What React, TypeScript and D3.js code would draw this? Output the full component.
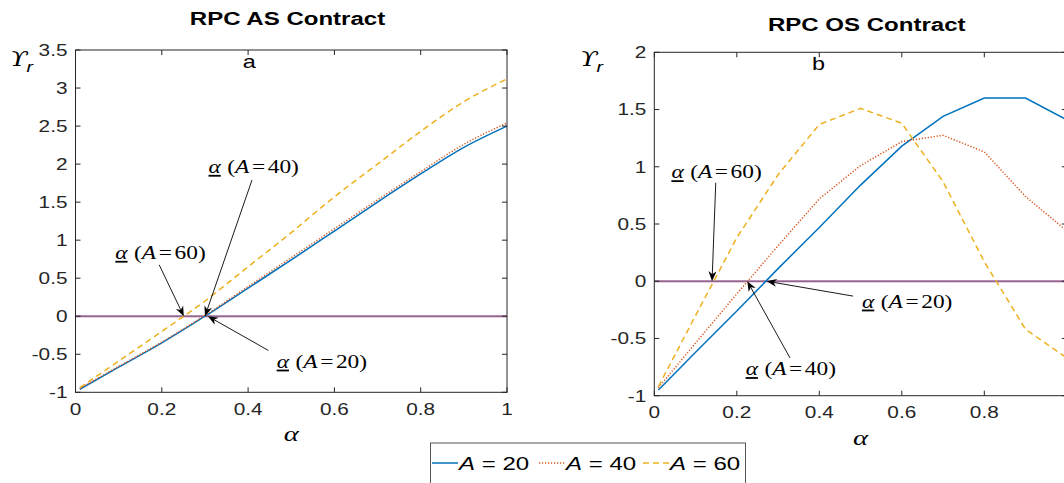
import React from "react";
import * as d3 from "d3";

const W = 1064;
const H = 483;
const SX = 1.3; // the reference's text is stretched horizontally

// data ---------------------------------------------------------------
const alphas = [0.01, 0.1, 0.2, 0.3, 0.4, 0.5, 0.6, 0.7, 0.8, 0.9, 1.0];

const asA20 = [-0.96, -0.67, -0.35, 0.0, 0.37, 0.74, 1.12, 1.5, 1.87, 2.22, 2.5];
const asA40 = [-0.95, -0.66, -0.34, 0.01, 0.39, 0.77, 1.15, 1.53, 1.9, 2.26, 2.54];
const asA60 = [-0.94, -0.59, -0.2, 0.2, 0.65, 1.1, 1.57, 2.0, 2.43, 2.82, 3.12];

const osA20 = [-0.95, -0.62, -0.26, 0.11, 0.47, 0.84, 1.18, 1.44, 1.6, 1.6, 1.41];
const osA40 = [-0.93, -0.54, -0.11, 0.31, 0.72, 1.01, 1.22, 1.275, 1.13, 0.74, 0.44];
const osA60 = [-0.92, -0.3, 0.38, 0.93, 1.37, 1.51, 1.38, 0.87, 0.17, -0.42, -0.67];

const xTicks = [0, 0.2, 0.4, 0.6, 0.8, 1];
const asYTicks = [-1, -0.5, 0, 0.5, 1, 1.5, 2, 2.5, 3, 3.5];
const osYTicks = [-1, -0.5, 0, 0.5, 1, 1.5, 2];

const seriesNames = ["A = 20", "A = 40", "A = 60"];

// annotation: label, head (alpha, value), tail, text centre
const asNotes = [
  { a: 40, head: [0.3, 0], tail: [0.409, 1.79], text: [0.413, 1.96] },
  { a: 60, head: [0.251, 0], tail: [0.194, 0.675], text: [0.197, 0.83] },
  { a: 20, head: [0.307, 0], tail: [0.447, -0.45], text: [0.571, -0.6] },
];
const osNotes = [
  { a: 60, head: [0.14, 0], tail: [0.149, 0.86], text: [0.151, 0.95] },
  { a: 20, head: [0.2725, 0], tail: [0.482, -0.13], text: [0.613, -0.18] },
  { a: 40, head: [0.2255, 0], tail: [0.329, -0.67], text: [0.331, -0.77] },
];

// styles ---------------------------------------------------------------
const styles = [
  { color: "#0072BD", dash: "none", width: 1.5 },
  { color: "#D95319", dash: "1.2 1.8", width: 1.5 },
  { color: "#EDB120", dash: "6 4", width: 1.5 },
];
const AXIS = "#262626";
const SANS = "'Liberation Sans', Arial, Helvetica, sans-serif";
const SERIF = "'Liberation Serif', 'Times New Roman', serif";

const SText = ({ x, y, anchor = "middle", size, weight = "normal", family = SANS, fill = AXIS, children }) => (
  <g transform={`translate(${x},${y}) scale(${SX},1)`}>
    <text textAnchor={anchor} fontSize={size} fontWeight={weight} fontFamily={family} fill={fill}>
      {children}
    </text>
  </g>
);

const Arrow = ({ x1, y1, x2, y2 }) => {
  const ang = Math.atan2(y2 - y1, x2 - x1);
  const L = 10, w = 4, n = 7;
  const c = Math.cos(ang), s = Math.sin(ang);
  const p = (back, side) => [x2 - back * c - side * s, y2 - back * s + side * c];
  const head = [p(0, 0), p(L, w), p(n, 0), p(L, -w)];
  return (
    <g>
      <line x1={x1} y1={y1} x2={p(n, 0)[0]} y2={p(n, 0)[1]} stroke="#000" strokeWidth={0.9} />
      <path d={d3.line()(head) + "Z"} fill="#000" />
    </g>
  );
};

const Panel = ({ left, right, top, bottom, yDomain, yTicks, series, notes, curve, title, titleX, titleY, letter, letterY, upsX, ylabY }) => {
  const x = d3.scaleLinear().domain([0, 1]).range([left, right]);
  const y = d3.scaleLinear().domain(yDomain).range([bottom, top]);
  const line = d3.line<number>().x((_, i) => x(alphas[i])).y((d) => y(d)).curve(curve);
  const zero = d3.line<number>().x((d) => x(d)).y(() => y(0));
  return (
    <g>
      <path d={zero([0, 1]) ?? ""} stroke="#c9a3c3" strokeWidth={2.4} fill="none" />
      <path d={zero([0, 1]) ?? ""} stroke="#7e4f7c" strokeWidth={1.1} fill="none" />
      {series.map((vals, i) => (
        <path
          key={i}
          d={line(vals) ?? ""}
          fill="none"
          stroke={styles[i].color}
          strokeWidth={styles[i].width}
          strokeDasharray={styles[i].dash}
        />
      ))}
      {/* box and ticks */}
      <rect x={left} y={top} width={right - left} height={bottom - top} fill="none" stroke={AXIS} strokeWidth={1} />
      {xTicks.map((t) => (
        <g key={"x" + t}>
          <line x1={x(t)} x2={x(t)} y1={bottom} y2={bottom - 5} stroke={AXIS} />
          <line x1={x(t)} x2={x(t)} y1={top} y2={top + 5} stroke={AXIS} />
          {x(t) < W - 8 && (
            <SText x={x(t)} y={bottom + 22.5} size={16}>{String(t)}</SText>
          )}
        </g>
      ))}
      {yTicks.map((t) => (
        <g key={"y" + t}>
          <line x1={left} x2={left + 5} y1={y(t)} y2={y(t)} stroke={AXIS} />
          <line x1={right} x2={right - 5} y1={y(t)} y2={y(t)} stroke={AXIS} />
          <SText x={left - 8} y={y(t) + 5.8} anchor="end" size={16}>{String(t)}</SText>
        </g>
      ))}
      {/* annotations */}
      {notes.map((n) => (
        <g key={"n" + n.a}>
          <Arrow x1={x(n.tail[0])} y1={y(n.tail[1])} x2={x(n.head[0])} y2={y(n.head[1])} />
          <SText x={x(n.text[0])} y={y(n.text[1]) + 6} size={18} family={SERIF} fill="#000">
            <tspan fontStyle="italic" style={{ textDecoration: "underline" }}>α</tspan>
            <tspan dx={5}>(</tspan>
            <tspan fontStyle="italic">A</tspan>
            <tspan dx={2}>=</tspan>
            <tspan dx={2}>{n.a})</tspan>
          </SText>
        </g>
      ))}
      {/* labels */}
      <SText x={titleX} y={titleY} size={18.5} weight="bold" fill="#000">{title}</SText>
      <SText x={(left + right) / 2 - 42} y={letterY} size={18} fill="#000">{letter}</SText>
      <SText x={(left + right) / 2} y={bottom + 49} size={22} family={SERIF} fill="#000">
        <tspan fontStyle="italic">α</tspan>
      </SText>
      <SText x={upsX} y={ylabY} anchor="start" size={20} family="'DejaVu Serif', serif" fill="#000">
        <tspan fontStyle="italic">ϒ</tspan>
      </SText>
      <SText x={upsX + 16.5} y={ylabY + 5.5} anchor="start" size={15} fill="#000">
        <tspan fontStyle="italic">r</tspan>
      </SText>
    </g>
  );
};

export default function App() {
  const legendX = [432, 539, 643];
  return (
    <svg width={W} height={H} style={{ position: "absolute", left: 0, top: 0, background: "#fff" }}>
      <rect width={W} height={H} fill="#fff" />
      <Panel
        left={75.5}
        right={507}
        top={50}
        bottom={392.3}
        yDomain={[-1, 3.5]}
        yTicks={asYTicks}
        series={[asA20, asA40, asA60]}
        notes={asNotes}
        curve={d3.curveMonotoneX}
        title="RPC AS Contract"
        titleX={287.5}
        titleY={25}
        letter="a"
        letterY={68}
        upsX={10}
        ylabY={66}
      />
      <Panel
        left={654.3}
        right={1066.8}
        top={52.3}
        bottom={395.7}
        yDomain={[-1, 2]}
        yTicks={osYTicks}
        series={[osA20, osA40, osA60]}
        notes={osNotes}
        curve={d3.curveLinear}
        title="RPC OS Contract"
        titleX={866.7}
        titleY={30.5}
        letter="b"
        letterY={70}
        upsX={580}
        ylabY={66}
      />
      {/* legend */}
      <rect x={430.5} y={443} width={315} height={50} fill="#fff" stroke="#555" strokeWidth={1} />
      {seriesNames.map((name, i) => (
        <g key={name}>
          <line
            x1={legendX[i]}
            x2={legendX[i] + 26}
            y1={463}
            y2={463}
            stroke={styles[i].color}
            strokeWidth={styles[i].width}
            strokeDasharray={styles[i].dash}
          />
          <SText x={legendX[i] + 27} y={469.5} anchor="start" size={18.5} fill="#000">
            <tspan fontStyle="italic">A</tspan>
            {name.slice(1)}
          </SText>
        </g>
      ))}
    </svg>
  );
}
